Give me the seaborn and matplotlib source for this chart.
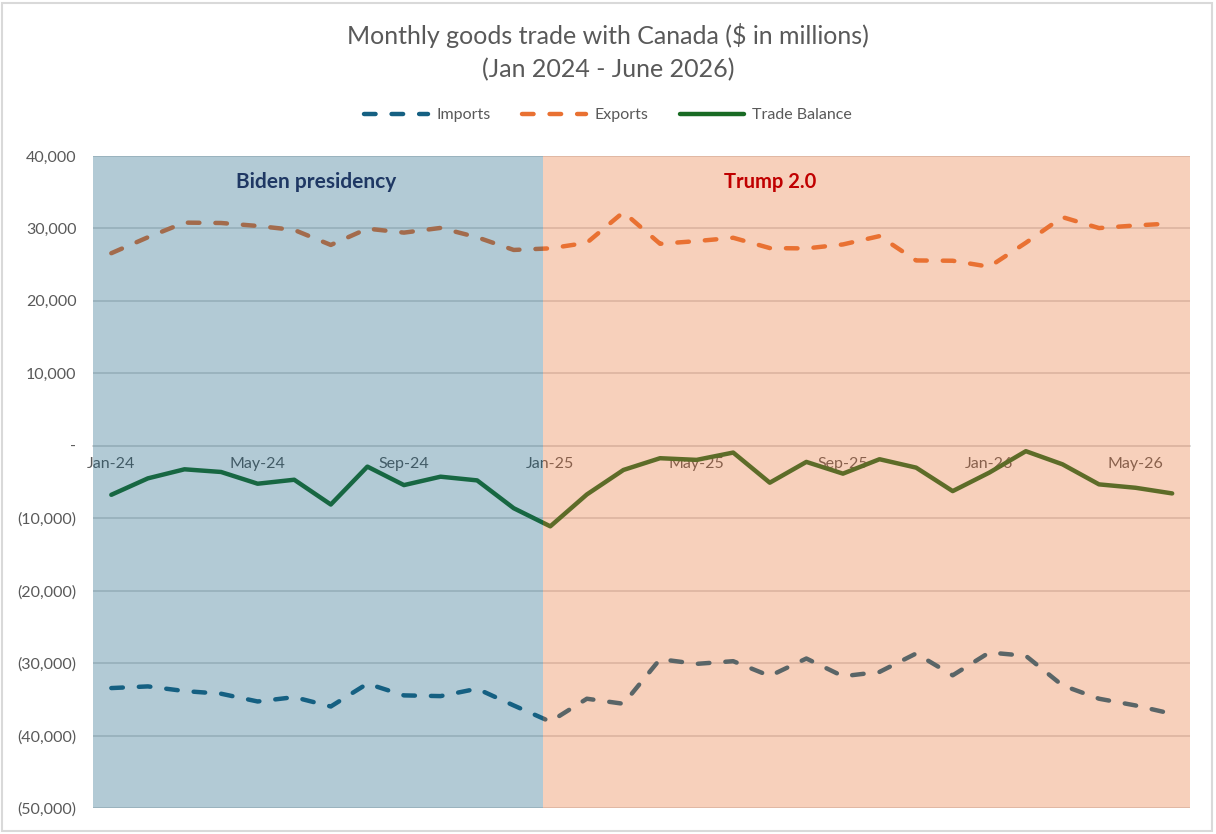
import numpy as np
import pandas as pd
import matplotlib
matplotlib.use("Agg")
import matplotlib.pyplot as plt
import seaborn as sns
from matplotlib.ticker import FixedLocator, FuncFormatter
from matplotlib.patches import Rectangle
from matplotlib.lines import Line2D

# data ($ millions)
months = ["Jan-24", "Feb-24", "Mar-24", "Apr-24", "May-24", "Jun-24", "Jul-24", "Aug-24",
          "Sep-24", "Oct-24", "Nov-24", "Dec-24", "Jan-25", "Feb-25", "Mar-25", "Apr-25",
          "May-25", "Jun-25", "Jul-25", "Aug-25", "Sep-25", "Oct-25", "Nov-25", "Dec-25",
          "Jan-26", "Feb-26", "Mar-26", "Apr-26", "May-26", "Jun-26"]

imports = [-33430, -33200, -33840, -34210, -35280, -34680, -35970, -32820, -34440, -34540,
           -33520, -35830, -38060, -34900, -35600, -29440, -30090, -29720, -31760, -29350,
           -31800, -31200, -28660, -31670, -28520, -28980, -33060, -34900, -35830, -36990]

exports = [26580, 28780, 30800, 30750, 30340, 29790, 27720, 29970, 29420, 30070,
           28780, 27030, 27250, 28020, 32250, 27880, 28250, 28710, 27290, 27240,
           27790, 28940, 25580, 25540, 24710, 28020, 31560, 30050, 30410, 30690]

balance = [-6760, -4490, -3240, -3610, -5230, -4680, -8100, -2870, -5420, -4260,
           -4770, -8610, -11110, -6710, -3330, -1710, -1940, -930, -5090, -2220,
           -3840, -1850, -3010, -6250, -3700, -740, -2550, -5320, -5790, -6570]

series_names = ["Imports", "Exports", "Trade Balance"]
colors = {"Imports": "#156082", "Exports": "#E97132", "Trade Balance": "#196B24"}

df = pd.DataFrame({"idx": np.arange(len(months)), "Imports": imports,
                   "Exports": exports, "Trade Balance": balance})
long = df.melt(id_vars="idx", var_name="series", value_name="value")

sns.set_theme(style="white")
plt.rcParams["font.family"] = ["Lato", "DejaVu Sans"]
txt = "#595959"
grid = "#D9D9D9"

fig = plt.figure(figsize=(12.16, 8.34), dpi=100)
ax = fig.add_axes([0.0765, 0.031, 0.9025, 0.782])

lw = 3.2
dash = (2.6, 3.6)
sns.lineplot(data=long, x="idx", y="value", hue="series", style="series",
             hue_order=series_names, style_order=series_names, palette=colors,
             dashes={"Imports": dash, "Exports": dash, "Trade Balance": ""},
             linewidth=lw, legend=False, ax=ax, zorder=3)
for ln in ax.lines:
    ln.set_dash_capstyle("round")
    ln.set_solid_capstyle("round")
    ln.set_solid_joinstyle("round")
    ln.set_dash_joinstyle("round")

# presidency shading drawn over everything in the plot area
split = 11.8
ax.axvspan(-0.5, split, color="#156082", alpha=0.33, lw=0, zorder=5)
ax.axvspan(split, len(months) - 0.5, color="#E97132", alpha=0.33, lw=0, zorder=5)
ax.text(5.6, 36400, "Biden presidency", color="#1F3864", fontsize=15,
        fontweight="bold", ha="center", va="center", zorder=6)
ax.text(18.0, 36400, "Trump 2.0", color="#C00000", fontsize=14.5,
        fontweight="bold", ha="center", va="center", zorder=6)

ax.set_xlim(-0.5, len(months) - 0.5)
ax.set_ylim(-50000, 40000)
ax.set_yticks(np.arange(-50000, 40001, 10000))
ax.yaxis.set_major_formatter(FuncFormatter(
    lambda v, p: "-" if v == 0 else (f"{v:,.0f}" if v > 0 else f"({-v:,.0f})")))
ax.yaxis.grid(True, color=grid, lw=1.3, zorder=0)
ax.set_axisbelow(True)

label_pos = list(range(0, len(months), 4))
ax.xaxis.set_major_locator(FixedLocator(label_pos))
ax.set_xticklabels([months[i] for i in label_pos])
ax.xaxis.set_minor_locator(FixedLocator([p - 0.5 for p in label_pos]))
ax.tick_params(axis="x", which="major", length=0, pad=8, labelsize=11.5, labelcolor=txt)
ax.tick_params(axis="x", which="minor", length=5, width=1.2, color=grid, direction="out")
ax.tick_params(axis="y", length=0, pad=12, labelsize=11.5, labelcolor=txt)
ax.set_xlabel("")
ax.set_ylabel("")

for s in ["left", "right", "top"]:
    ax.spines[s].set_visible(False)
ax.spines["bottom"].set_position(("data", 0))
ax.spines["bottom"].set_color(grid)
ax.spines["bottom"].set_linewidth(1.3)

fig.text(0.5, 0.958, "Monthly goods trade with Canada ($ in millions)", ha="center",
         va="center", fontsize=18, color=txt)
fig.text(0.5, 0.916, "(Jan 2024 - June 2026)", ha="center", va="center",
         fontsize=18, color=txt)

handles = [Line2D([], [], color=colors[n], lw=lw,
                  linestyle=(0, dash) if n != "Trade Balance" else "-",
                  dash_capstyle="round", solid_capstyle="round") for n in series_names]
fig.legend(handles, series_names, loc="center", bbox_to_anchor=(0.5, 0.862), ncol=3,
           frameon=False, fontsize=11.5, labelcolor=txt, handlelength=4.0,
           columnspacing=2.0, handletextpad=0.5)

fig.patches.append(Rectangle((0.002, 0.003), 0.995, 0.994, transform=fig.transFigure,
                             fill=False, edgecolor=grid, lw=1.5))

fig.savefig("out.png", dpi=100, facecolor="white")
